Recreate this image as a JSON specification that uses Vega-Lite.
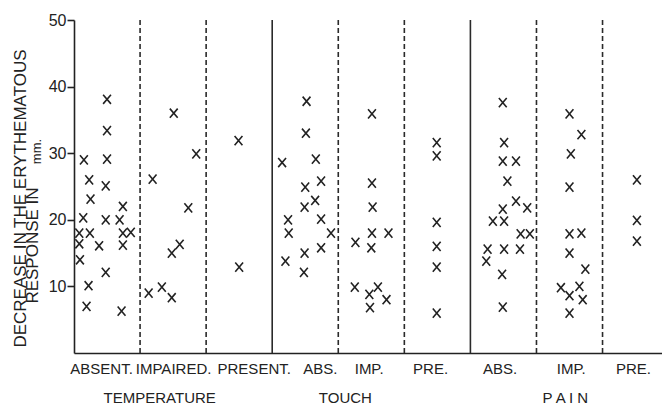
{
  "$schema": "https://vega.github.io/schema/vega-lite/v6.json",
  "width": 588,
  "height": 333,
  "autosize": {"type": "none"},
  "padding": {"left": 74, "top": 20, "right": 0, "bottom": 53},
  "background": "white",
  "config": {"view": {"stroke": null}, "font": "Liberation Sans"},
  "resolve": {"axis": {"y": "independent"}},
  "encoding": {
    "x": {
      "field": "x", "type": "quantitative",
      "scale": {"domain": [0, 8.9], "nice": false, "zero": false},
      "axis": {
        "values": [0.41, 1.5, 2.72, 3.72, 4.46, 5.39, 6.44, 7.52, 8.46, 1.29, 4.1, 7.43],
        "labelExpr": "['ABSENT.','IMPAIRED.','PRESENT.','ABS.','IMP.','PRE.','ABS.','IMP.','PRE.',['','TEMPERATURE'],['','TOUCH'],['','P A I N']][indexof([0.41,1.5,2.72,3.72,4.46,5.39,6.44,7.52,8.46,1.29,4.1,7.43], datum.value)]",
        "ticks": false, "grid": false, "title": null,
        "domainColor": "#222", "domainWidth": 1.6,
        "labelFont": "Liberation Sans", "labelFontSize": 15, "labelColor": "#222",
        "labelPadding": 8, "labelLineHeight": 29,
        "labelOverlap": false, "labelFlush": false, "labelBound": false,
        "labelAlign": "center", "labelBaseline": "top"
      }
    }
  },
  "layer": [
    {
      "data": {"values": [{"x": 3, "kind": "solid"}, {"x": 6, "kind": "solid"}]},
      "mark": {"type": "rule", "color": "#2a2a2a", "strokeWidth": 1.6},
      "encoding": {
        "y": {
          "datum": 0, "type": "quantitative",
          "axis": {
            "orient": "left", "domain": false, "ticks": false, "labels": false, "grid": false,
            "title": "RESPONSE IN",
            "titleFont": "Liberation Sans", "titleFontSize": 17, "titleFontWeight": "normal", "titleColor": "#222",
            "titleAngle": 270, "titleAlign": "center", "titleBaseline": "alphabetic",
            "titleX": -37, "titleY": 225
          }
        },
        "y2": {"datum": 50}
      }
    },
    {
      "data": {"values": [{"x": 1, "kind": "dashed"}, {"x": 2, "kind": "dashed"}, {"x": 4, "kind": "dashed"}, {"x": 5, "kind": "dashed"}, {"x": 7, "kind": "dashed"}, {"x": 8, "kind": "dashed"}]},
      "mark": {"type": "rule", "color": "#2a2a2a", "strokeWidth": 1.6, "strokeDash": [5, 3]},
      "encoding": {
        "y": {
          "datum": 0, "type": "quantitative",
          "axis": {
            "orient": "left", "domain": false, "ticks": false, "labels": false, "grid": false,
            "title": "mm.",
            "titleFont": "Liberation Sans", "titleFontSize": 13, "titleFontWeight": "normal", "titleColor": "#222",
            "titleAngle": 270, "titleAlign": "center", "titleBaseline": "alphabetic",
            "titleX": -34, "titleY": 131
          }
        },
        "y2": {"datum": 50}
      }
    },
    {
      "data": {"values": [
        {"s": "Temperature", "l": "Absent", "x": 0.50, "y": 38.1},
        {"s": "Temperature", "l": "Absent", "x": 0.50, "y": 33.4},
        {"s": "Temperature", "l": "Absent", "x": 0.15, "y": 29.0},
        {"s": "Temperature", "l": "Absent", "x": 0.50, "y": 29.1},
        {"s": "Temperature", "l": "Absent", "x": 0.23, "y": 26.0},
        {"s": "Temperature", "l": "Absent", "x": 0.48, "y": 25.1},
        {"s": "Temperature", "l": "Absent", "x": 0.25, "y": 23.1},
        {"s": "Temperature", "l": "Absent", "x": 0.74, "y": 22.0},
        {"s": "Temperature", "l": "Absent", "x": 0.14, "y": 20.3},
        {"s": "Temperature", "l": "Absent", "x": 0.48, "y": 20.0},
        {"s": "Temperature", "l": "Absent", "x": 0.69, "y": 20.0},
        {"s": "Temperature", "l": "Absent", "x": 0.08, "y": 18.0},
        {"s": "Temperature", "l": "Absent", "x": 0.24, "y": 18.0},
        {"s": "Temperature", "l": "Absent", "x": 0.74, "y": 18.0},
        {"s": "Temperature", "l": "Absent", "x": 0.86, "y": 18.1},
        {"s": "Temperature", "l": "Absent", "x": 0.08, "y": 16.4},
        {"s": "Temperature", "l": "Absent", "x": 0.38, "y": 16.1},
        {"s": "Temperature", "l": "Absent", "x": 0.74, "y": 16.2},
        {"s": "Temperature", "l": "Absent", "x": 0.09, "y": 14.0},
        {"s": "Temperature", "l": "Absent", "x": 0.48, "y": 12.1},
        {"s": "Temperature", "l": "Absent", "x": 0.22, "y": 10.1},
        {"s": "Temperature", "l": "Absent", "x": 0.19, "y": 7.0},
        {"s": "Temperature", "l": "Absent", "x": 0.72, "y": 6.3},
        {"s": "Temperature", "l": "Impaired", "x": 1.51, "y": 36.0},
        {"s": "Temperature", "l": "Impaired", "x": 1.85, "y": 29.9},
        {"s": "Temperature", "l": "Impaired", "x": 1.19, "y": 26.1},
        {"s": "Temperature", "l": "Impaired", "x": 1.73, "y": 21.8},
        {"s": "Temperature", "l": "Impaired", "x": 1.60, "y": 16.3},
        {"s": "Temperature", "l": "Impaired", "x": 1.48, "y": 15.0},
        {"s": "Temperature", "l": "Impaired", "x": 1.13, "y": 9.0},
        {"s": "Temperature", "l": "Impaired", "x": 1.33, "y": 9.9},
        {"s": "Temperature", "l": "Impaired", "x": 1.48, "y": 8.3},
        {"s": "Temperature", "l": "Present", "x": 2.49, "y": 31.9},
        {"s": "Temperature", "l": "Present", "x": 2.50, "y": 12.9},
        {"s": "Touch", "l": "Absent", "x": 3.52, "y": 37.8},
        {"s": "Touch", "l": "Absent", "x": 3.51, "y": 33.0},
        {"s": "Touch", "l": "Absent", "x": 3.15, "y": 28.6},
        {"s": "Touch", "l": "Absent", "x": 3.66, "y": 29.1},
        {"s": "Touch", "l": "Absent", "x": 3.74, "y": 25.8},
        {"s": "Touch", "l": "Absent", "x": 3.50, "y": 24.9},
        {"s": "Touch", "l": "Absent", "x": 3.65, "y": 22.9},
        {"s": "Touch", "l": "Absent", "x": 3.49, "y": 21.9},
        {"s": "Touch", "l": "Absent", "x": 3.74, "y": 20.1},
        {"s": "Touch", "l": "Absent", "x": 3.24, "y": 20.0},
        {"s": "Touch", "l": "Absent", "x": 3.25, "y": 18.0},
        {"s": "Touch", "l": "Absent", "x": 3.89, "y": 18.0},
        {"s": "Touch", "l": "Absent", "x": 3.74, "y": 15.8},
        {"s": "Touch", "l": "Absent", "x": 3.49, "y": 15.0},
        {"s": "Touch", "l": "Absent", "x": 3.20, "y": 13.8},
        {"s": "Touch", "l": "Absent", "x": 3.48, "y": 12.1},
        {"s": "Touch", "l": "Impaired", "x": 4.51, "y": 35.9},
        {"s": "Touch", "l": "Impaired", "x": 4.51, "y": 25.5},
        {"s": "Touch", "l": "Impaired", "x": 4.52, "y": 21.9},
        {"s": "Touch", "l": "Impaired", "x": 4.51, "y": 18.0},
        {"s": "Touch", "l": "Impaired", "x": 4.76, "y": 18.0},
        {"s": "Touch", "l": "Impaired", "x": 4.26, "y": 16.6},
        {"s": "Touch", "l": "Impaired", "x": 4.50, "y": 15.8},
        {"s": "Touch", "l": "Impaired", "x": 4.25, "y": 9.9},
        {"s": "Touch", "l": "Impaired", "x": 4.60, "y": 9.9},
        {"s": "Touch", "l": "Impaired", "x": 4.47, "y": 8.8},
        {"s": "Touch", "l": "Impaired", "x": 4.73, "y": 8.0},
        {"s": "Touch", "l": "Impaired", "x": 4.48, "y": 6.8},
        {"s": "Touch", "l": "Present", "x": 5.49, "y": 31.6},
        {"s": "Touch", "l": "Present", "x": 5.49, "y": 29.6},
        {"s": "Touch", "l": "Present", "x": 5.49, "y": 19.6},
        {"s": "Touch", "l": "Present", "x": 5.49, "y": 16.0},
        {"s": "Touch", "l": "Present", "x": 5.49, "y": 12.9},
        {"s": "Touch", "l": "Present", "x": 5.49, "y": 6.0},
        {"s": "Pain", "l": "Absent", "x": 6.49, "y": 37.6},
        {"s": "Pain", "l": "Absent", "x": 6.51, "y": 31.6},
        {"s": "Pain", "l": "Absent", "x": 6.49, "y": 28.8},
        {"s": "Pain", "l": "Absent", "x": 6.69, "y": 28.8},
        {"s": "Pain", "l": "Absent", "x": 6.56, "y": 25.8},
        {"s": "Pain", "l": "Absent", "x": 6.69, "y": 22.8},
        {"s": "Pain", "l": "Absent", "x": 6.86, "y": 21.8},
        {"s": "Pain", "l": "Absent", "x": 6.49, "y": 21.6},
        {"s": "Pain", "l": "Absent", "x": 6.34, "y": 19.8},
        {"s": "Pain", "l": "Absent", "x": 6.51, "y": 19.8},
        {"s": "Pain", "l": "Absent", "x": 6.76, "y": 17.9},
        {"s": "Pain", "l": "Absent", "x": 6.90, "y": 17.9},
        {"s": "Pain", "l": "Absent", "x": 6.26, "y": 15.6},
        {"s": "Pain", "l": "Absent", "x": 6.51, "y": 15.6},
        {"s": "Pain", "l": "Absent", "x": 6.75, "y": 15.6},
        {"s": "Pain", "l": "Absent", "x": 6.24, "y": 13.8},
        {"s": "Pain", "l": "Absent", "x": 6.48, "y": 11.8},
        {"s": "Pain", "l": "Absent", "x": 6.49, "y": 6.9},
        {"s": "Pain", "l": "Impaired", "x": 7.50, "y": 35.9},
        {"s": "Pain", "l": "Impaired", "x": 7.68, "y": 32.8},
        {"s": "Pain", "l": "Impaired", "x": 7.52, "y": 29.9},
        {"s": "Pain", "l": "Impaired", "x": 7.50, "y": 24.9},
        {"s": "Pain", "l": "Impaired", "x": 7.50, "y": 17.9},
        {"s": "Pain", "l": "Impaired", "x": 7.68, "y": 18.0},
        {"s": "Pain", "l": "Impaired", "x": 7.50, "y": 15.0},
        {"s": "Pain", "l": "Impaired", "x": 7.74, "y": 12.6},
        {"s": "Pain", "l": "Impaired", "x": 7.37, "y": 9.8},
        {"s": "Pain", "l": "Impaired", "x": 7.65, "y": 10.0},
        {"s": "Pain", "l": "Impaired", "x": 7.50, "y": 8.6},
        {"s": "Pain", "l": "Impaired", "x": 7.70, "y": 8.0},
        {"s": "Pain", "l": "Impaired", "x": 7.50, "y": 6.0},
        {"s": "Pain", "l": "Present", "x": 8.52, "y": 26.0},
        {"s": "Pain", "l": "Present", "x": 8.52, "y": 19.9},
        {"s": "Pain", "l": "Present", "x": 8.52, "y": 16.8}
      ]},
      "mark": {"type": "point", "shape": "M-0.85,-1L0.85,1M-0.85,1L0.85,-1", "size": 85, "filled": false, "stroke": "#222", "strokeWidth": 1.6, "opacity": 1},
      "encoding": {
        "y": {
          "field": "y", "type": "quantitative",
          "scale": {"domain": [0, 50], "nice": false, "zero": true},
          "axis": {
            "orient": "left",
            "values": [10, 20, 30, 40, 50], "grid": false,
            "tickSize": 7, "tickWidth": 1.6, "tickColor": "#222",
            "domainColor": "#222", "domainWidth": 1.6,
            "labelFont": "Liberation Sans", "labelFontSize": 16, "labelColor": "#222", "labelPadding": 1,
            "title": "DECREASE IN THE ERYTHEMATOUS",
            "titleFont": "Liberation Sans", "titleFontSize": 17, "titleFontWeight": "normal", "titleColor": "#222",
            "titleAngle": 270, "titleAlign": "center", "titleBaseline": "alphabetic",
            "titleX": -49, "titleY": 178
          }
        }
      }
    }
  ]
}
